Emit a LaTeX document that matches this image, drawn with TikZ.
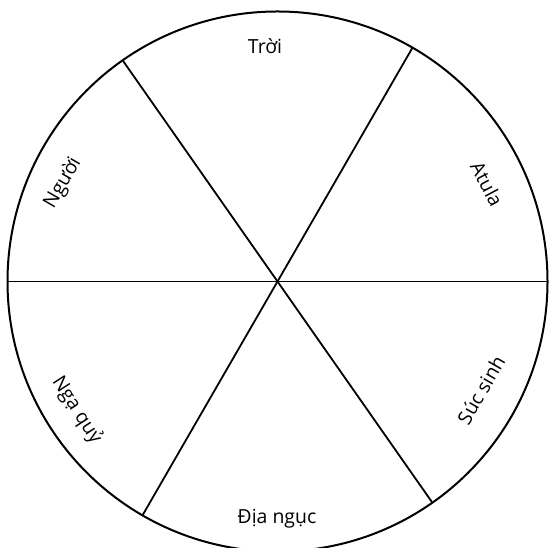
\documentclass[tikz,border=0pt]{standalone}
\usepackage{fontspec}
\setmainfont{Open Sans}
\begin{document}
\begin{tikzpicture}[x=1bp,y=1bp,
  rim/.style={line width=2bp,draw=black},
  spoke/.style={line width=1.8bp,draw=black},
  lbl/.style={font=\fontsize{19.5}{22}\selectfont,inner sep=0pt}]
\useasboundingbox (0,0) rectangle (548,548);
\fill[white] (0,0) rectangle (548,548);
\coordinate (O) at (277.5,266.5);
\draw[rim] (O) circle (270);
\path (O) ++(0:270) coordinate (E);
\path (O) ++(180:270) coordinate (W);
\path (O) ++(125:270) coordinate (NW);
\path (O) ++(-55:270) coordinate (SE);
\path (O) ++(60:270) coordinate (NE);
\path (O) ++(240:270) coordinate (SW);
\draw[spoke] (W) -- (O) -- (E);
\draw[spoke] (NW) -- (O) -- (SE);
\draw[spoke] (NE) -- (O) -- (SW);
\node[lbl] (troi) at (265,502) {Trời};
\node[lbl,rotate=-62] (atula) at (487,364) {Atula};
\node[lbl,rotate=60] (nguoi) at (63,365) {Người};
\node[lbl,rotate=-57] (ngaquy) at (77,138) {Ngạ quỷ};
\node[lbl,rotate=60] (sucsinh) at (481,158) {Súc sinh};
\node[lbl] (diangnuc) at (277,29) {Địa ngục};
\end{tikzpicture}
\end{document}
